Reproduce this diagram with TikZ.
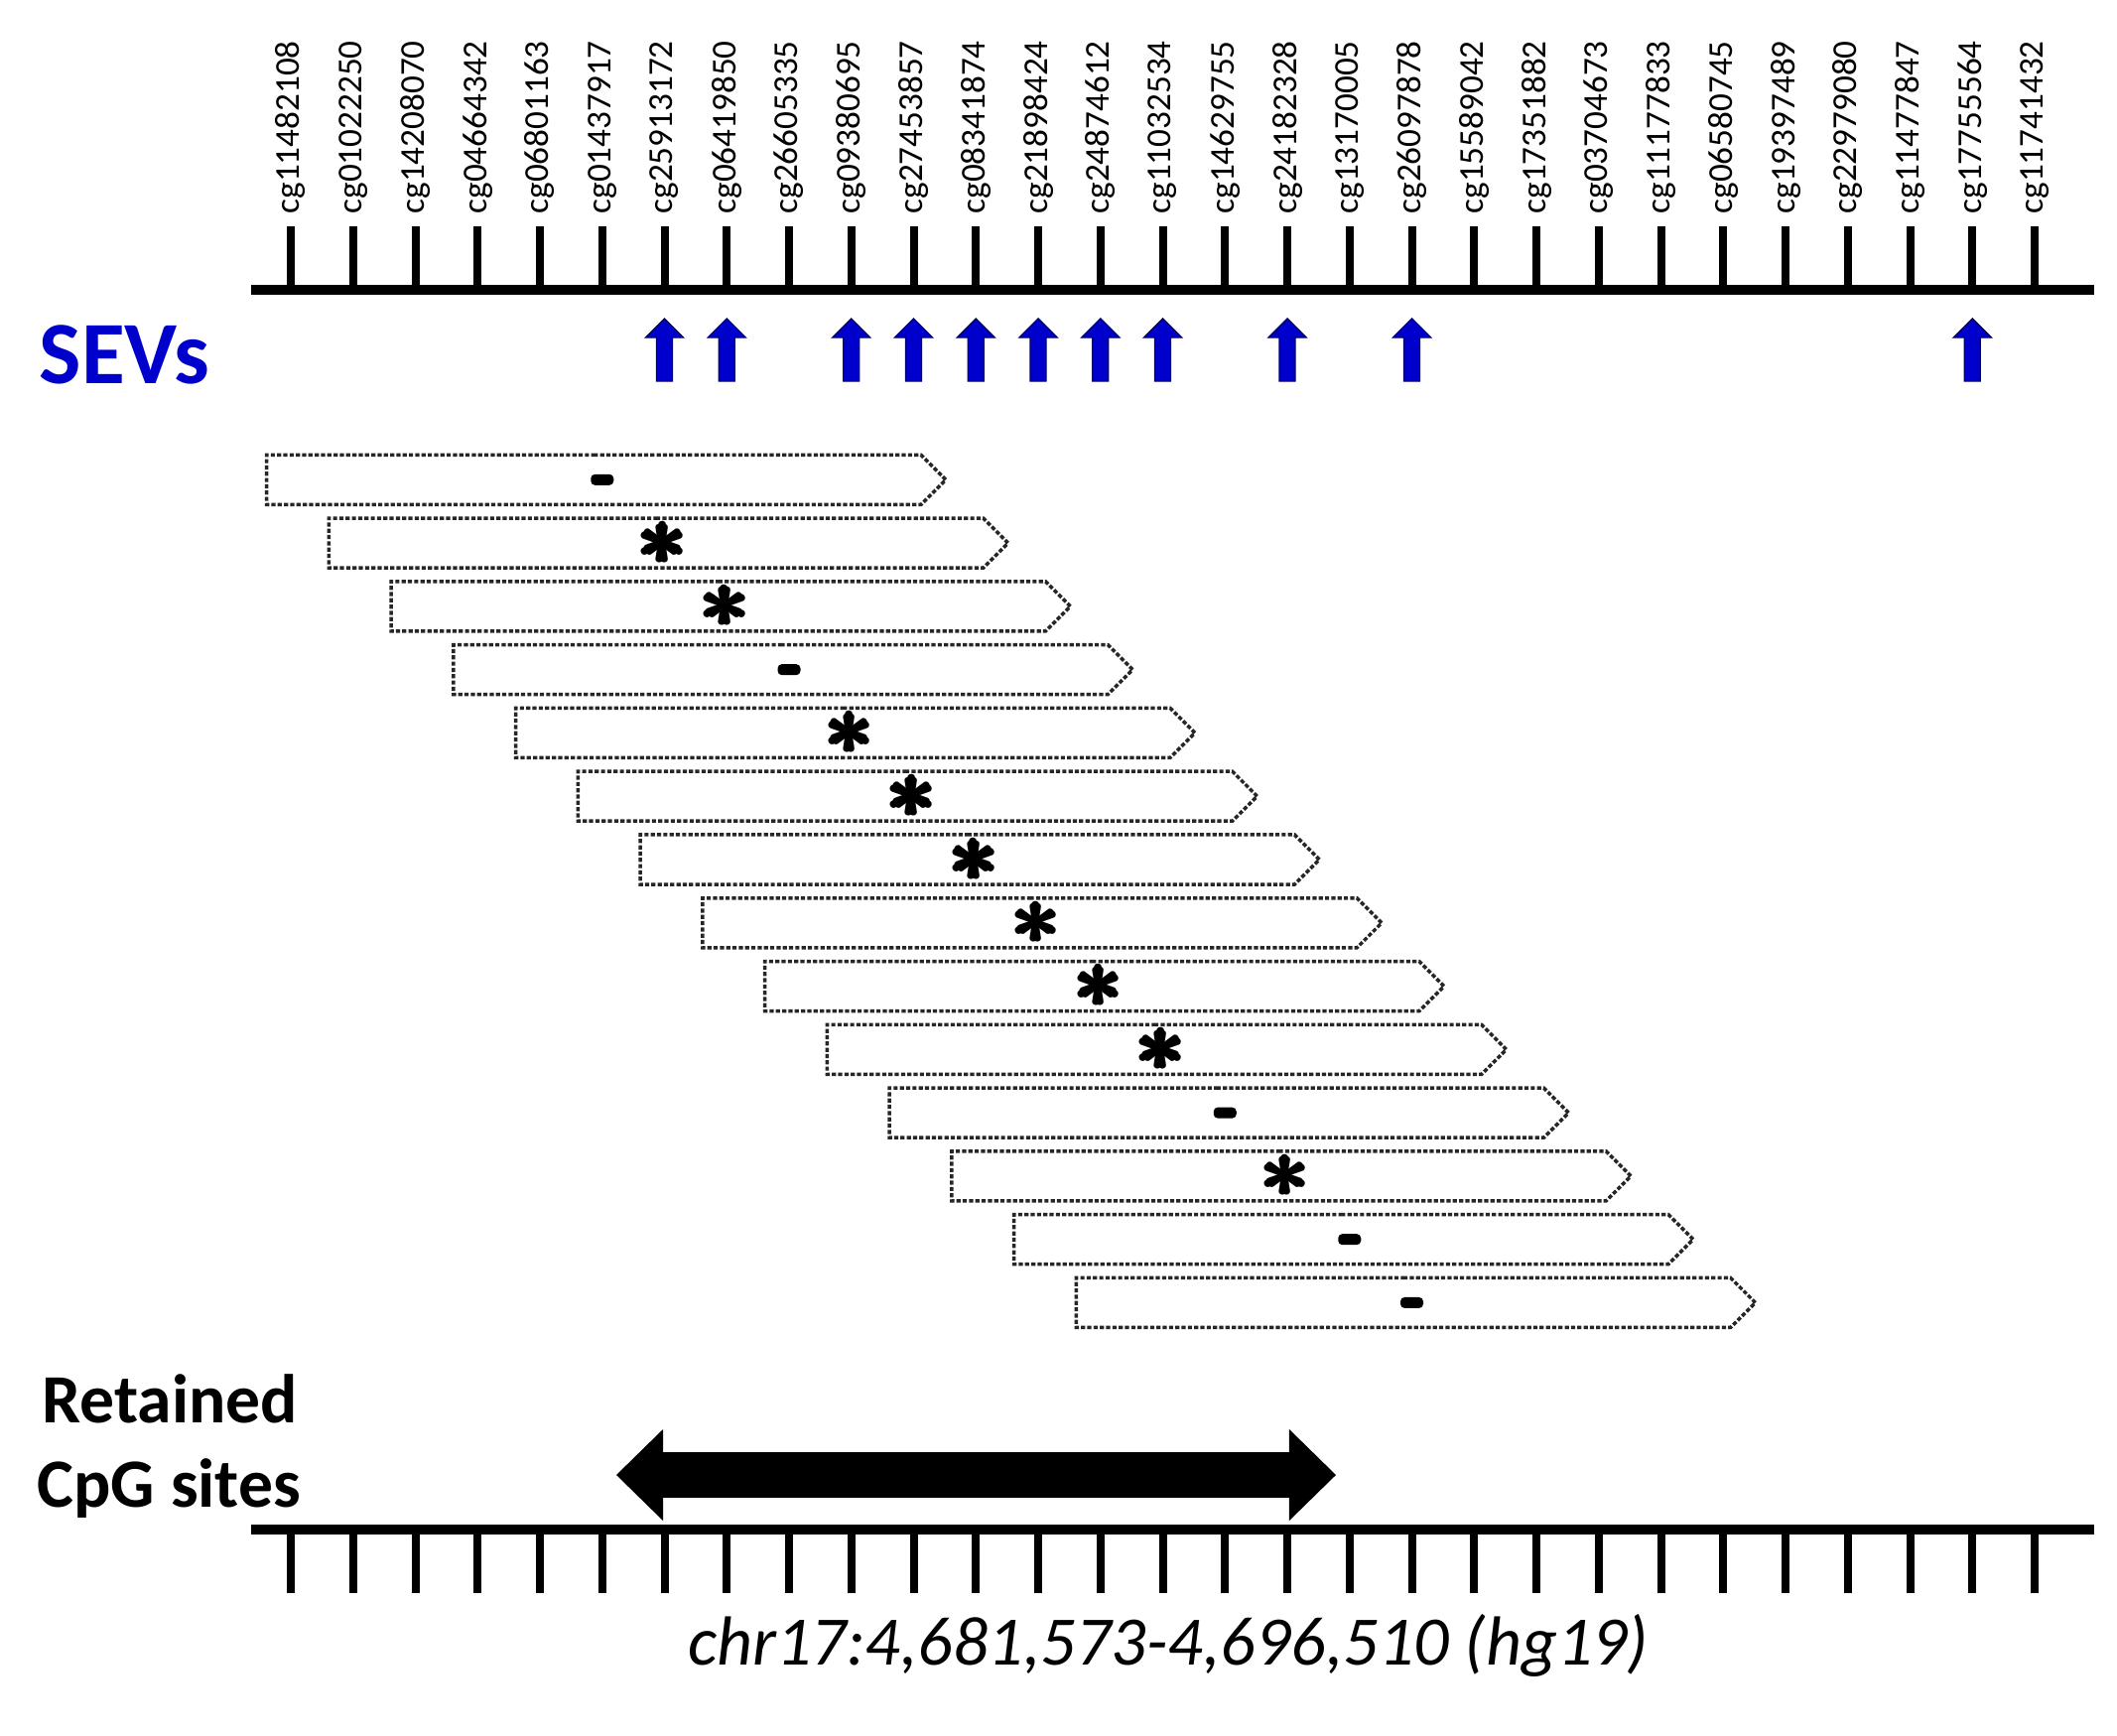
\documentclass[tikz,border=0pt]{standalone}
\usepackage{amsmath}
\usepackage{fontspec}
\setmainfont{Carlito}
\usetikzlibrary{shapes.symbols,arrows.meta}

\definecolor{sevblue}{RGB}{0,0,204}

\tikzset{
  probe/.style={rotate=90, anchor=west, inner sep=0pt, font=\fontsize{10pt}{11pt}\selectfont},
  site/.style={line width=0.08cm},
  axis/.style={line width=0.1cm},
  sevarrow/.style={fill=sevblue, draw=sevblue!55!black, line width=0.4pt},
  window/.style={signal, signal to=east, draw=black!85, line width=1pt,
    dash pattern=on 1.2pt off 0.6pt, minimum width=6.84cm, minimum height=0.5cm, inner sep=0pt},
  sigmark/.style={inner sep=0pt, font=\fontsize{24pt}{24pt}\selectfont\boldmath},
  nsmark/.style={fill=black, rounded corners=1.2pt, minimum width=0.23cm, minimum height=0.11cm, inner sep=0pt},
}

\begin{document}
\begin{tikzpicture}[x=0.01cm, y=-0.01cm]
\useasboundingbox (0,0) rectangle (2133,1748);
% 上方坐标轴与探针
\coordinate (topL) at (253,292);
\coordinate (topR) at (2110,292);
\draw[axis] (topL) -- (topR);
\foreach \lab [count=\i from 0] in {cg11482108,cg01022250,cg14208070,cg04664342,cg06801163,cg01437917,cg25913172,cg06419850,cg26605335,cg09380695,cg27453857,cg08341874,cg21898424,cg24874612,cg11032534,cg14629755,cg24182328,cg13170005,cg26097878,cg15589042,cg17351882,cg03704673,cg11177833,cg06580745,cg19397489,cg22979080,cg11477847,cg17755564,cg11741432} {
  \draw[site] ({293+62.75*\i},292) -- ({293+62.75*\i},228);
  \node[probe] (cg\i) at ({293+62.75*\i},216) {\lab};
}

% SEVs
\node[anchor=west, inner sep=0pt, text=sevblue, font=\fontsize{25.5pt}{26pt}\selectfont\bfseries] (sevs) at (39,357) {SEVs};
\foreach \i in {6,7,9,10,11,12,13,14,16,18,27}
  \draw[sevarrow] ({293+62.75*\i},321) -- +(19,19) -- +(8,19) -- +(8,63) -- +(-8,63) -- +(-8,19) -- +(-19,19) -- cycle;

% 滑动窗口
\foreach \m [count=\k from 0] in {-,*,*,-,*,*,*,*,*,*,-,*,-,-} {
  \coordinate (c\k) at ({293+62.75*(\k+5)},{483.3+63.78*\k});
  \node[window, xshift=-0.085cm] (win\k) at (c\k) {};
  \if\m*
    \node[sigmark] (mark\k) at (c\k) {$\pmb{\ast}$};
  \else
    \node[nsmark] (mark\k) at (c\k) {};
  \fi
}

% 保留位点
\node[anchor=base west, inner sep=0pt, font=\fontsize{19.8pt}{23pt}\selectfont\bfseries] (ret1) at (42,1433) {Retained};
\node[anchor=base west, inner sep=0pt, font=\fontsize{19.8pt}{23pt}\selectfont\bfseries] (ret2) at (37,1518) {CpG sites};
\coordinate (retL) at (621,1486);
\coordinate (retR) at (1346,1486);
\draw[line width=0.46cm, {Triangle[length=0.47cm,width=0.92cm,line width=0pt]}-{Triangle[length=0.47cm,width=0.92cm,line width=0pt]}] (retL) -- (retR);

% 下方坐标轴
\coordinate (botL) at (253,1541);
\coordinate (botR) at (2110,1541);
\draw[axis] (botL) -- (botR);
\foreach \i in {0,...,28}
  \draw[site] ({293+62.75*\i},1541) -- ({293+62.75*\i},1605);

\node[font=\fontsize{19.9pt}{24pt}\selectfont\itshape, inner sep=0pt] (region) at (1177,1658) {chr17:4,681,573-4,696,510 (hg19)};
\end{tikzpicture}
\end{document}
